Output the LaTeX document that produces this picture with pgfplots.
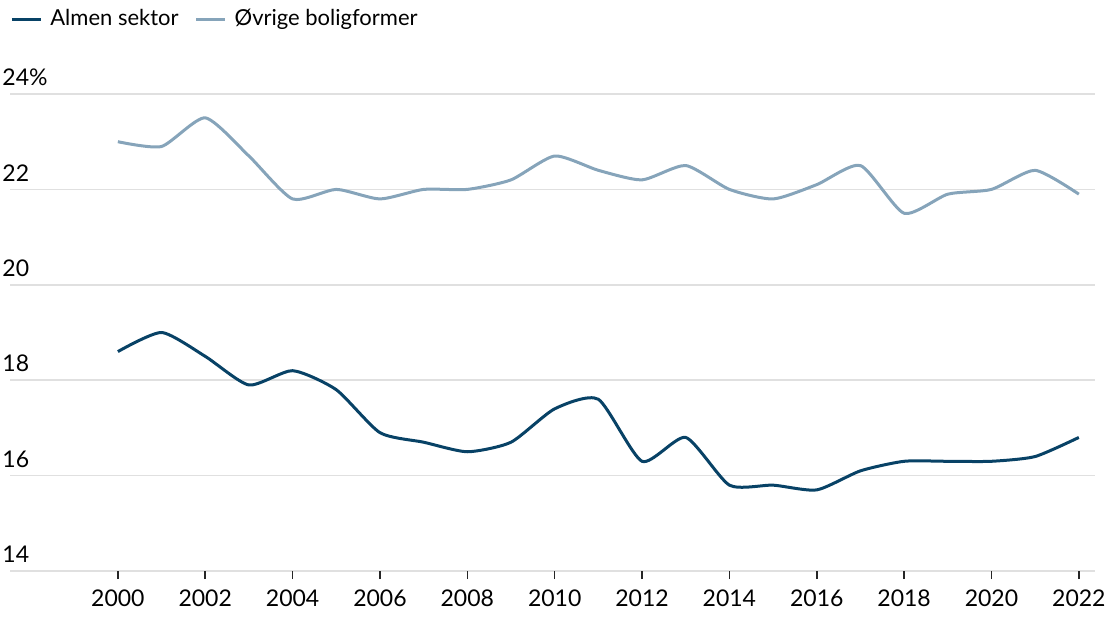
\documentclass[border=0pt]{standalone}
\usepackage{fontspec}
\setmainfont{Lato}
\usepackage{pgfplots}
\pgfplotsset{compat=1.18}
\definecolor{almen}{RGB}{8,66,102}
\definecolor{ovrige}{RGB}{134,164,186}
\definecolor{gridc}{RGB}{224,224,224}
\begin{document}
\begin{tikzpicture}
\begin{axis}[
  name=ax,
  scale only axis,
  width=542.5pt, height=238.5pt,
  xmin=1997.53, xmax=2022.37,
  ymin=14, ymax=24,
  axis line style={draw=none},
  axis x line*=bottom, axis y line*=left,
  xtick={2000,2002,...,2022},
  xticklabel style={/pgf/number format/1000 sep={}, font=\fontsize{11.5}{12}\selectfont, yshift=-2pt},
  /pgf/number format/assume math mode=true,
  x tick style={draw=black!85, line width=0.8pt},
  tick align=outside,
  major tick length=4pt,
  ytick={14,16,...,24},
  yticklabels={14,16,18,20,22,24\%},
  y tick style={draw=none},
  yticklabel style={anchor=south west, inner sep=0pt, xshift=0pt, yshift=4pt, font=\fontsize{11.5}{12}\selectfont},
  ymajorgrids,
  grid style={gridc, line width=0.75pt},
  legend columns=2,
  legend style={at={(0,1)}, anchor=west, yshift=37.5pt, draw=none, fill=none, inner sep=0pt,
    font=\fontsize{11}{12}\selectfont,
    /tikz/every odd column/.append style={column sep=0pt},
    /tikz/every even column/.append style={column sep=6pt}},
  legend image code/.code={\draw[#1, line width=1.5pt] (0pt,0pt) -- (14.5pt,0pt);},
  every axis plot/.append style={line width=1.5pt, smooth, tension=0.38},
]
\addplot[almen] coordinates {
(2000,18.6) (2001,19.0) (2002,18.5) (2003,17.9) (2004,18.2) (2005,17.8)
(2006,16.9) (2007,16.7) (2008,16.5) (2009,16.7) (2010,17.4) (2011,17.6)
(2012,16.3) (2013,16.8) (2014,15.8) (2015,15.8) (2016,15.7) (2017,16.1)
(2018,16.3) (2019,16.3) (2020,16.3) (2021,16.4) (2022,16.8)
};
\addlegendentry{\hspace{2pt}Almen sektor}
\addplot[ovrige] coordinates {
(2000,23.0) (2001,22.9) (2002,23.5) (2003,22.7) (2004,21.8) (2005,22.0)
(2006,21.8) (2007,22.0) (2008,22.0) (2009,22.2) (2010,22.7) (2011,22.4)
(2012,22.2) (2013,22.5) (2014,22.0) (2015,21.8) (2016,22.1) (2017,22.5)
(2018,21.5) (2019,21.9) (2020,22.0) (2021,22.4) (2022,21.9)
};
\addlegendentry{\hspace{2pt}Øvrige boligformer}
\end{axis}
\pgfresetboundingbox
\path ([xshift=-5pt,yshift=-23.5pt]ax.south west) rectangle ([xshift=7.5pt,yshift=47pt]ax.north east);
\end{tikzpicture}
\end{document}
